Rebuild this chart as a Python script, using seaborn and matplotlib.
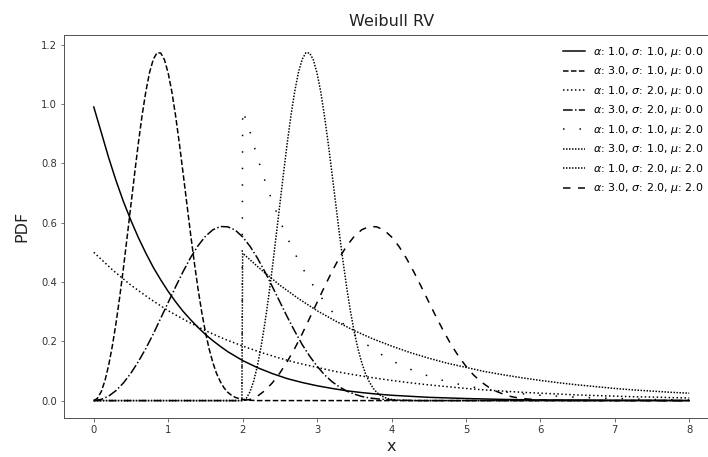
import matplotlib
matplotlib.use("Agg")
import matplotlib.pyplot as plt
import seaborn as sns

# ------------------------------------------------------------------
# Data (Weibull PDFs, shape alpha, scale sigma, loc mu)
# ------------------------------------------------------------------
labels = [
    r"$\alpha$: 1.0, $\sigma$: 1.0, $\mu$: 0.0",
    r"$\alpha$: 3.0, $\sigma$: 1.0, $\mu$: 0.0",
    r"$\alpha$: 1.0, $\sigma$: 2.0, $\mu$: 0.0",
    r"$\alpha$: 3.0, $\sigma$: 2.0, $\mu$: 0.0",
    r"$\alpha$: 1.0, $\sigma$: 1.0, $\mu$: 2.0",
    r"$\alpha$: 3.0, $\sigma$: 1.0, $\mu$: 2.0",
    r"$\alpha$: 1.0, $\sigma$: 2.0, $\mu$: 2.0",
    r"$\alpha$: 3.0, $\sigma$: 2.0, $\mu$: 2.0",
]

# alpha 1, sigma 1, mu 0
x1 = [0.0, 0.1, 0.2, 0.3, 0.4, 0.5, 0.6, 0.7, 0.8, 0.9, 1.0, 1.1, 1.2, 1.3,
      1.4, 1.5, 1.6, 1.7, 1.8, 1.9, 2.0, 2.2, 2.4, 2.6, 2.8, 3.0, 3.2, 3.4,
      3.6, 3.8, 4.0, 4.5, 5.0, 5.5, 6.0, 6.5, 7.0, 7.5, 8.0]
y1 = [0.990, 0.905, 0.819, 0.741, 0.670, 0.607, 0.549, 0.497, 0.449, 0.407,
      0.368, 0.333, 0.301, 0.273, 0.247, 0.223, 0.202, 0.183, 0.165, 0.150,
      0.135, 0.111, 0.091, 0.074, 0.061, 0.050, 0.041, 0.033, 0.027, 0.022,
      0.018, 0.011, 0.007, 0.004, 0.002, 0.002, 0.001, 0.001, 0.000]

# alpha 3, sigma 1, mu 0
x2 = [0.0, 0.05, 0.1, 0.15, 0.2, 0.25, 0.3, 0.35, 0.4, 0.45, 0.5, 0.55, 0.6,
      0.65, 0.7, 0.75, 0.8, 0.85, 0.9, 0.95, 1.0, 1.05, 1.1, 1.15, 1.2, 1.25,
      1.3, 1.35, 1.4, 1.45, 1.5, 1.55, 1.6, 1.65, 1.7, 1.75, 1.8, 1.85, 1.9,
      1.95, 2.0, 2.1, 2.2, 8.0]
y2 = [0.000, 0.008, 0.030, 0.067, 0.119, 0.185, 0.263, 0.352, 0.450, 0.555,
      0.662, 0.768, 0.870, 0.963, 1.043, 1.107, 1.151, 1.173, 1.172, 1.149,
      1.104, 1.040, 0.959, 0.867, 0.767, 0.665, 0.563, 0.467, 0.378, 0.299,
      0.231, 0.174, 0.128, 0.091, 0.064, 0.043, 0.028, 0.018, 0.011, 0.007,
      0.004, 0.001, 0.000, 0.000]

# alpha 1, sigma 2, mu 0
x3 = [0.0, 0.25, 0.5, 0.75, 1.0, 1.25, 1.5, 1.75, 2.0, 2.25, 2.5, 2.75, 3.0,
      3.25, 3.5, 3.75, 4.0, 4.25, 4.5, 4.75, 5.0, 5.25, 5.5, 5.75, 6.0, 6.25,
      6.5, 6.75, 7.0, 7.25, 7.5, 7.75, 8.0]
y3 = [0.500, 0.441, 0.389, 0.344, 0.303, 0.268, 0.236, 0.208, 0.184, 0.162,
      0.143, 0.126, 0.112, 0.098, 0.087, 0.077, 0.068, 0.060, 0.053, 0.047,
      0.041, 0.036, 0.032, 0.028, 0.025, 0.022, 0.019, 0.017, 0.015, 0.013,
      0.012, 0.010, 0.009]

# alpha 3, sigma 2, mu 0
x4 = [0.0, 0.1, 0.2, 0.3, 0.4, 0.5, 0.6, 0.7, 0.8, 0.9, 1.0, 1.1, 1.2, 1.3,
      1.4, 1.5, 1.6, 1.7, 1.8, 1.9, 2.0, 2.1, 2.2, 2.3, 2.4, 2.5, 2.6, 2.7,
      2.8, 2.9, 3.0, 3.1, 3.2, 3.3, 3.4, 3.5, 3.6, 3.7, 3.8, 3.9, 4.0, 4.2,
      4.4, 8.0]
y4 = [0.000, 0.004, 0.015, 0.034, 0.060, 0.093, 0.132, 0.176, 0.225, 0.278,
      0.331, 0.384, 0.435, 0.482, 0.522, 0.554, 0.576, 0.587, 0.586, 0.575,
      0.552, 0.520, 0.480, 0.434, 0.384, 0.333, 0.282, 0.234, 0.189, 0.150,
      0.116, 0.087, 0.064, 0.046, 0.032, 0.022, 0.014, 0.009, 0.006, 0.004,
      0.002, 0.001, 0.000, 0.000]

# alpha 1, sigma 1, mu 2
x5 = [0.0, 1.99, 2.0, 2.1, 2.2, 2.3, 2.4, 2.5, 2.6, 2.7, 2.8, 2.9, 3.0, 3.1,
      3.2, 3.3, 3.4, 3.5, 3.6, 3.7, 3.8, 3.9, 4.0, 4.2, 4.4, 4.6, 4.8, 5.0,
      5.2, 5.4, 5.6, 5.8, 6.0, 6.5, 7.0, 7.5, 8.0]
y5 = [0.000, 0.000, 0.980, 0.905, 0.819, 0.741, 0.670, 0.607, 0.549, 0.497,
      0.449, 0.407, 0.368, 0.333, 0.301, 0.273, 0.247, 0.223, 0.202, 0.183,
      0.165, 0.150, 0.135, 0.111, 0.091, 0.074, 0.061, 0.050, 0.041, 0.033,
      0.027, 0.022, 0.018, 0.011, 0.007, 0.004, 0.002]

# alpha 3, sigma 1, mu 2
x6 = [0.0, 2.0, 2.05, 2.1, 2.15, 2.2, 2.25, 2.3, 2.35, 2.4, 2.45, 2.5, 2.55,
      2.6, 2.65, 2.7, 2.75, 2.8, 2.85, 2.9, 2.95, 3.0, 3.05, 3.1, 3.15, 3.2,
      3.25, 3.3, 3.35, 3.4, 3.45, 3.5, 3.55, 3.6, 3.65, 3.7, 3.75, 3.8, 3.85,
      3.9, 3.95, 4.0, 4.1, 4.2, 8.0]
y6 = [0.000, 0.000, 0.008, 0.030, 0.067, 0.119, 0.185, 0.263, 0.352, 0.450,
      0.555, 0.662, 0.768, 0.870, 0.963, 1.043, 1.107, 1.151, 1.173, 1.172,
      1.149, 1.104, 1.040, 0.959, 0.867, 0.767, 0.665, 0.563, 0.467, 0.378,
      0.299, 0.231, 0.174, 0.128, 0.091, 0.064, 0.043, 0.028, 0.018, 0.011,
      0.007, 0.004, 0.001, 0.000, 0.000]

# alpha 1, sigma 2, mu 2
x7 = [0.0, 1.99, 2.0, 2.25, 2.5, 2.75, 3.0, 3.25, 3.5, 3.75, 4.0, 4.25, 4.5,
      4.75, 5.0, 5.25, 5.5, 5.75, 6.0, 6.25, 6.5, 6.75, 7.0, 7.25, 7.5, 7.75,
      8.0]
y7 = [0.000, 0.000, 0.497, 0.441, 0.389, 0.344, 0.303, 0.268, 0.236, 0.208,
      0.184, 0.162, 0.143, 0.126, 0.112, 0.098, 0.087, 0.077, 0.068, 0.060,
      0.053, 0.047, 0.041, 0.036, 0.032, 0.028, 0.025]

# alpha 3, sigma 2, mu 2
x8 = [0.0, 2.0, 2.1, 2.2, 2.3, 2.4, 2.5, 2.6, 2.7, 2.8, 2.9, 3.0, 3.1, 3.2,
      3.3, 3.4, 3.5, 3.6, 3.7, 3.8, 3.9, 4.0, 4.1, 4.2, 4.3, 4.4, 4.5, 4.6,
      4.7, 4.8, 4.9, 5.0, 5.1, 5.2, 5.3, 5.4, 5.5, 5.6, 5.7, 5.8, 5.9, 6.0,
      6.2, 6.4, 8.0]
y8 = [0.000, 0.000, 0.004, 0.015, 0.034, 0.060, 0.093, 0.132, 0.176, 0.225,
      0.278, 0.331, 0.384, 0.435, 0.482, 0.522, 0.554, 0.576, 0.587, 0.586,
      0.575, 0.552, 0.520, 0.480, 0.434, 0.384, 0.333, 0.282, 0.234, 0.189,
      0.150, 0.116, 0.087, 0.064, 0.046, 0.032, 0.022, 0.014, 0.009, 0.006,
      0.004, 0.002, 0.001, 0.000, 0.000]

xs = [x1, x2, x3, x4, x5, x6, x7, x8]
ys = [y1, y2, y3, y4, y5, y6, y7, y8]

line_styles = ["-", "--", ":", "-.", (0, (1, 10)), (0, (1, 1)), (0, (1, 1)), (0, (5, 5))]

# ------------------------------------------------------------------
# Plot
# ------------------------------------------------------------------
plt.rcParams['font.family'] = ['DejaVu Sans']
plt.rcParams['axes.edgecolor'] = '#555555'
plt.rcParams['axes.linewidth'] = 1.0
plt.rcParams['xtick.color'] = '#555555'
plt.rcParams['ytick.color'] = '#555555'
plt.rcParams['xtick.labelcolor'] = '#333333'
plt.rcParams['ytick.labelcolor'] = '#333333'

W, H = 708, 457
fig = plt.figure(figsize=(W / 72, H / 72), dpi=72)
# axes runs a little past the right edge, as in the cropped reference
ax = fig.add_axes([64 / W, (H - 418) / H, (719 - 64) / W, (418 - 35) / H])

for xv, yv, ls, lab in zip(xs, ys, line_styles, labels):
    sns.lineplot(x=xv, y=yv, ax=ax, color="black", linewidth=1.5,
                 linestyle=ls, label=lab, estimator=None, sort=False)

ax.set_xlim(-0.4, 8.4)
ax.set_ylim(-0.0587, 1.2328)
ax.set_xticks(range(0, 9))
ax.set_yticks([0.0, 0.2, 0.4, 0.6, 0.8, 1.0, 1.2])
ax.tick_params(labelsize=10)

ax.set_title("Weibull RV", fontsize=16, color='#222222', pad=9)
ax.set_xlabel("x", fontsize=16, color='#222222')
ax.set_ylabel("PDF", fontsize=16, color='#222222', labelpad=12)

ax.legend(loc="upper right", bbox_to_anchor=(0.992, 1.0), frameon=False, fontsize=11)

fig.savefig("out.png", dpi=72)
